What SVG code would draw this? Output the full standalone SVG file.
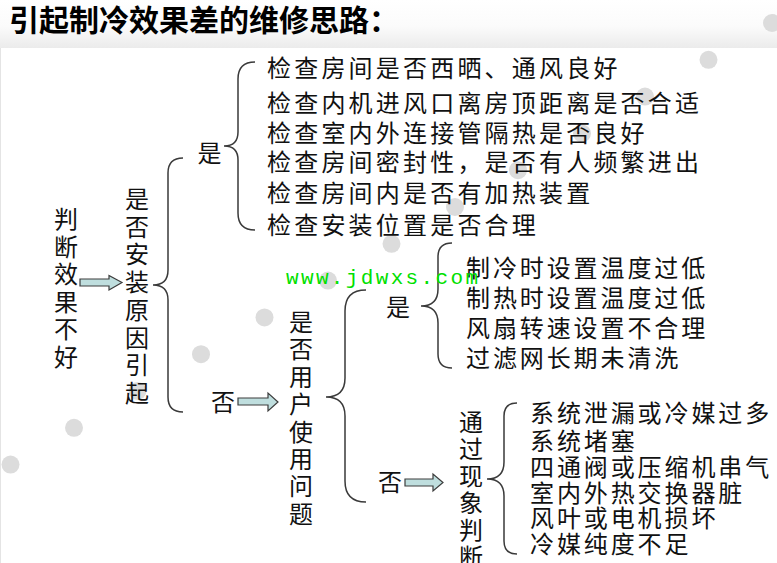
<svg xmlns="http://www.w3.org/2000/svg" width="777" height="563" viewBox="0 0 777 563">
<defs>
<linearGradient id="band" x1="0" y1="0" x2="0" y2="1">
<stop offset="0" stop-color="#ffffff"/>
<stop offset="0.55" stop-color="#fbfbfb"/>
<stop offset="1" stop-color="#ebebeb"/>
</linearGradient>
<style>
.t{font-family:"Noto Sans CJK SC","Noto Sans CJK JP",sans-serif;font-size:24px;fill:#111;}
.l1{letter-spacing:3.2px;}
.l2{letter-spacing:2.9px;}
.title{font-family:"Noto Sans CJK SC",sans-serif;font-size:30px;font-weight:700;fill:#000;}
.wm{font-family:"Liberation Mono",monospace;font-size:21px;fill:#00e000;}
.brace{fill:none;stroke:#3a3a3a;stroke-width:1.5;}
.arrow{fill:#bfdede;stroke:#3c3c3c;stroke-width:1.2;stroke-linejoin:miter;}
.dot{fill:#dcdcdc;}
</style>
</defs>
<rect x="0" y="0" width="777" height="48" fill="url(#band)"/>
<rect x="1" y="48" width="776" height="515" fill="#ffffff"/>
<line x1="0.5" y1="48" x2="0.5" y2="563" stroke="#e4e4e4" stroke-width="1"/>
<g id="dots">
<circle class="dot" cx="772" cy="23" r="9"/>
<circle class="dot" cx="708.5" cy="59.8" r="9"/>
<circle class="dot" cx="645" cy="96.6" r="9"/>
<circle class="dot" cx="582" cy="133.4" r="9"/>
<circle class="dot" cx="518" cy="170.2" r="9"/>
<circle class="dot" cx="455" cy="207" r="9"/>
<circle class="dot" cx="391.5" cy="243.8" r="9"/>
<circle class="dot" cx="328" cy="280.6" r="9"/>
<circle class="dot" cx="264.5" cy="317.4" r="9"/>
<circle class="dot" cx="201" cy="354.2" r="9"/>
<circle class="dot" cx="137.5" cy="391" r="9"/>
<circle class="dot" cx="74" cy="427.8" r="9"/>
<circle class="dot" cx="10.5" cy="464.6" r="9"/>
</g>
<g id="title"><text class="title" x="9" y="31">引起制冷效果差的维修思路：</text></g>
<g id="connectors">
<polygon class="arrow" points="80,279 109,279 109,275.5 122,282.5 109,290 109,286 80,286"/>
<polygon class="arrow" points="238,398 268,398 268,393 278,402 268,411 268,405 238,405"/>
<polygon class="arrow" points="405,479 433,479 433,474 443,482.5 433,491 433,486 405,486"/>
<path class="brace" d="M255,62 Q238,62 238,79 L238,132 Q238,146 224,146 Q238,146 238,160 L238,213 Q238,230 255,230"/>
<path class="brace" d="M183,158 Q168,158 168,173 L168,270 Q168,285 153,285 Q168,285 168,300 L168,397 Q168,412 183,412"/>
<path class="brace" d="M452,243 Q438,243 438,257 L438,289 Q438,306 421,306 Q438,306 438,323 L438,354 Q438,368 452,368"/>
<path class="brace" d="M517,403 Q504,403 504,416 L504,462 Q504,479 487,479 Q504,479 504,496 L504,541 Q504,554 517,554"/>
<path class="brace" d="M366,290 Q345,290 345,311 L345,378 Q345,397 326,397 Q345,397 345,416 L345,481 Q345,502 366,502"/>
</g>
<g id="n-judge"><text class="t" text-anchor="middle"><tspan x="66" y="228">判</tspan><tspan x="66" y="255.6">断</tspan><tspan x="66" y="283.2">效</tspan><tspan x="66" y="310.8">果</tspan><tspan x="66" y="338.4">不</tspan><tspan x="66" y="366">好</tspan></text></g>
<g id="n-install"><text class="t" text-anchor="middle"><tspan x="137" y="208">是</tspan><tspan x="137" y="235.7">否</tspan><tspan x="137" y="263.4">安</tspan><tspan x="137" y="291.1">装</tspan><tspan x="137" y="318.8">原</tspan><tspan x="137" y="346.5">因</tspan><tspan x="137" y="374.2">引</tspan><tspan x="137" y="401.9">起</tspan></text></g>
<g id="n-yes1"><text class="t" text-anchor="middle" x="209.5" y="162">是</text></g>
<g id="n-list1">
<text class="t l1" x="267" y="77">检查房间是否西晒、通风良好</text>
<text class="t l1" x="267" y="112">检查内机进风口离房顶距离是否合适</text>
<text class="t l1" x="267" y="142">检查室内外连接管隔热是否良好</text>
<text class="t l1" x="267" y="171">检查房间密封性，是否有人频繁进出</text>
<text class="t l1" x="267" y="202">检查房间内是否有加热装置</text>
<text class="t l1" x="267" y="234">检查安装位置是否合理</text>
</g>
<g id="n-no1"><text class="t" text-anchor="middle" x="223" y="411">否</text></g>
<g id="n-user"><text class="t" text-anchor="middle"><tspan x="301" y="331">是</tspan><tspan x="301" y="358.4">否</tspan><tspan x="301" y="385.8">用</tspan><tspan x="301" y="413.2">户</tspan><tspan x="301" y="440.6">使</tspan><tspan x="301" y="468">用</tspan><tspan x="301" y="495.4">问</tspan><tspan x="301" y="522.8">题</tspan></text></g>
<g id="n-yes2"><text class="t" text-anchor="middle" x="398" y="316">是</text></g>
<g id="n-list2">
<text class="t l2" x="466" y="277">制冷时设置温度过低</text>
<text class="t l2" x="466" y="307">制热时设置温度过低</text>
<text class="t l2" x="466" y="337">风扇转速设置不合理</text>
<text class="t l2" x="466" y="367">过滤网长期未清洗</text>
</g>
<g id="n-no2"><text class="t" text-anchor="middle" x="390" y="491">否</text></g>
<g id="n-observe"><text class="t" text-anchor="middle"><tspan x="471" y="431">通</tspan><tspan x="471" y="458">过</tspan><tspan x="471" y="485">现</tspan><tspan x="471" y="512">象</tspan><tspan x="471" y="539">判</tspan><tspan x="471" y="566">断</tspan></text></g>
<g id="n-list3">
<text class="t l2" x="530" y="422">系统泄漏或冷媒过多</text>
<text class="t l2" x="530" y="450">系统堵塞</text>
<text class="t l2" x="530" y="476">四通阀或压缩机串气</text>
<text class="t l2" x="530" y="502">室内外热交换器脏</text>
<text class="t l2" x="530" y="527">风叶或电机损坏</text>
<text class="t l2" x="530" y="553">冷媒纯度不足</text>
</g>
<g id="watermark"><text class="wm" x="286" y="284" textLength="192" lengthAdjust="spacing">www.jdwxs.com</text></g>
</svg>
